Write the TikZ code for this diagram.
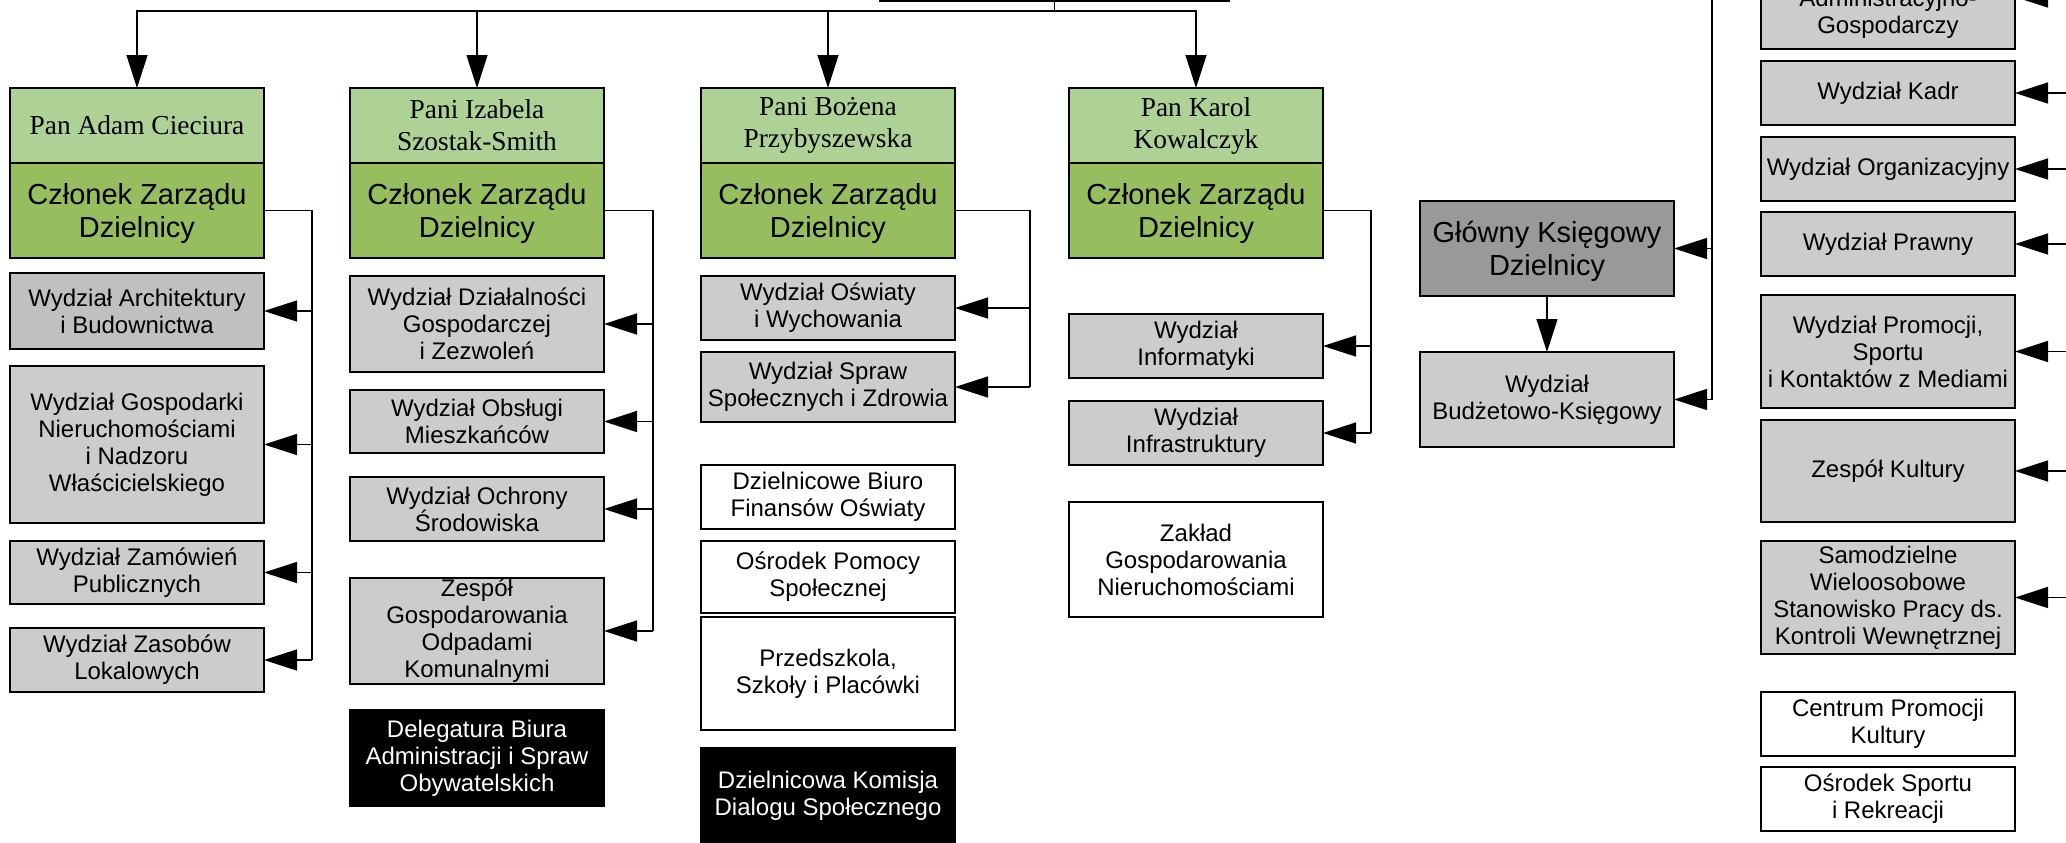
\documentclass[tikz,border=0pt]{standalone}
\usepackage{fontspec}
\setmainfont{Liberation Serif}
\setsansfont{Liberation Sans}
\usepackage{xcolor}
\usepackage{tikz}
\usetikzlibrary{positioning,calc,arrows.meta}
\definecolor{namegreen}{RGB}{174,210,150}
\definecolor{rolegreen}{RGB}{150,190,95}
\definecolor{deptgray}{RGB}{204,204,204}
\definecolor{archgray}{RGB}{192,192,192}
\definecolor{chiefgray}{RGB}{153,153,153}

\begin{document}
\begin{tikzpicture}[>={Triangle[length=16.5pt,width=10.5pt]}, line width=0.7pt,
    every node/.style={rectangle, draw, align=center, minimum width=127pt, inner xsep=2pt, inner ysep=0.4pt, outer sep=0pt, line width=0.8pt, font=\sffamily\fontsize{12}{13.5}\selectfont},
    namebox/.style={fill=namegreen, minimum height=37.5pt, font=\rmfamily\fontsize{13.7}{16}\selectfont},
    rolebox/.style={fill=rolegreen, minimum height=47.5pt, text depth=0pt, font=\sffamily\fontsize{14.5}{16.5}\selectfont},
    dept/.style={fill=deptgray},
    unit/.style={fill=white},
    blackbox/.style={fill=black, text=white}]
    \useasboundingbox (0,0) rectangle (1033pt,-421pt);
    \clip (0,0) rectangle (1033pt,-421pt);

    \node [minimum width=174.5pt, minimum height=30pt] (head) at (527.25pt,14.5pt) {};

    % members of the board
    \node [namebox] (adam) at (68.5pt,-62.75pt) {Pan Adam Cieciura};
    \node [rolebox, below=0pt of adam] (adamzc) {Członek Zarządu\\Dzielnicy};
    \node [namebox, right=43pt of adam] (izabela) {Pani Izabela\\Szostak-Smith};
    \node [rolebox, below=0pt of izabela] (izabelazc) {Członek Zarządu\\Dzielnicy};
    \node [namebox, right=48.5pt of izabela] (bozena) {Pani Bożena\\Przybyszewska};
    \node [rolebox, below=0pt of bozena] (bozenazc) {Członek Zarządu\\Dzielnicy};
    \node [namebox, right=57pt of bozena] (karol) {Pan Karol\\Kowalczyk};
    \node [rolebox, below=0pt of karol] (karolzc) {Członek Zarządu\\Dzielnicy};

    \node [dept, fill=archgray, minimum height=38pt, below=7.5pt of adamzc] (arch) {Wydział Architektury\\i Budownictwa};
    \node [dept, minimum height=78.5pt, below=8.5pt of arch] (gosp) {Wydział Gospodarki\\Nieruchomościami\\i Nadzoru\\Właścicielskiego};
    \node [dept, minimum height=31.5pt, below=9pt of gosp] (zam) {Wydział Zamówień\\Publicznych};
    \node [dept, minimum height=32pt, below=12pt of zam] (zas) {Wydział Zasobów\\Lokalowych};

    \node [dept, minimum height=48pt, below=9pt of izabelazc] (dzial) {Wydział Działalności\\Gospodarczej\\i Zezwoleń};
    \node [dept, minimum height=31.5pt, below=9pt of dzial] (obs) {Wydział Obsługi\\Mieszkańców};
    \node [dept, minimum height=32pt, below=12pt of obs] (ochr) {Wydział Ochrony\\Środowiska};
    \node [dept, minimum height=53pt, below=18.5pt of ochr] (odpady) {Zespół\\Gospodarowania\\Odpadami\\Komunalnymi};
    \node [blackbox, minimum height=48pt, below=13pt of odpady] (deleg) {Delegatura Biura\\Administracji i Spraw\\Obywatelskich};

    \node [dept, minimum height=32pt, below=9pt of bozenazc] (osw) {Wydział Oświaty\\i Wychowania};
    \node [dept, minimum height=35pt, below=6pt of osw] (spraw) {Wydział Spraw\\Społecznych i Zdrowia};
    \node [unit, minimum height=32pt, below=21.5pt of spraw] (biuro) {Dzielnicowe Biuro\\Finansów Oświaty};
    \node [unit, minimum height=36pt, below=6pt of biuro] (ops) {Ośrodek Pomocy\\Społecznej};
    \node [unit, minimum height=56.5pt, below=2pt of ops] (szkoly) {Przedszkola,\\Szkoły i Placówki};
    \node [blackbox, minimum height=48pt, below=9pt of szkoly] (komisja) {Dzielnicowa Komisja\\Dialogu Społecznego};

    \node [dept, minimum height=32pt, below=28pt of karolzc] (inf) {Wydział\\Informatyki};
    \node [dept, minimum height=32pt, below=11.5pt of inf] (infra) {Wydział\\Infrastruktury};
    \node [unit, minimum height=57.5pt, below=18.5pt of infra] (zgn) {Zakład\\Gospodarowania\\Nieruchomościami};

    % accountant
    \node [fill=chiefgray, minimum height=47.5pt, text depth=0pt, font=\sffamily\fontsize{14.5}{16.5}\selectfont] (glowny) at (773.5pt,-124.25pt) {Główny Księgowy\\Dzielnicy};
    \node [dept, minimum height=47.5pt, below=28pt of glowny] (budz) {Wydział\\Budżetowo-Księgowy};

    % right column
    \node [dept, minimum height=35.5pt] (admin) at (944pt,-6.75pt) {Administracyjno-\\Gospodarczy};
    \node [dept, minimum height=32pt, below=6pt of admin] (kadr) {Wydział Kadr};
    \node [dept, minimum height=32pt, below=6pt of kadr] (org) {Wydział Organizacyjny};
    \node [dept, minimum height=32pt, below=5.5pt of org] (prawny) {Wydział Prawny};
    \node [dept, minimum height=56.5pt, below=9.5pt of prawny] (promo) {Wydział Promocji,\\Sportu\\i Kontaktów z Mediami};
    \node [dept, minimum height=51pt, below=6pt of promo] (kultura) {Zespół Kultury};
    \node [dept, minimum height=56.5pt, below=9.5pt of kultura] (kontrola) {Samodzielne\\Wieloosobowe\\Stanowisko Pracy ds.\\Kontroli Wewnętrznej};
    \node [unit, minimum height=32pt, below=19pt of kontrola] (cpk) {Centrum Promocji\\Kultury};
    \node [unit, minimum height=32pt, below=5.5pt of cpk] (osir) {Ośrodek Sportu\\i Rekreacji};

    \coordinate (hub) at ($(head.south)+(0,-5pt)$);
    \draw (head.south) -- (hub);
    \draw [->] (hub) -| (adam.north);
    \draw [->] (hub) -| (izabela.north);
    \draw [->] (hub) -| (bozena.north);
    \draw [->] (hub) -| (karol.north);

    \coordinate [right=24pt of adamzc] (bus1);
    \draw (adamzc.east) -- (bus1) -- (bus1 |- zas.east);
    \draw [->] (bus1 |- arch.east) -- (arch.east);
    \draw [->] (bus1 |- gosp.east) -- (gosp.east);
    \draw [->] (bus1 |- zam.east) -- (zam.east);
    \draw [->] (bus1 |- zas.east) -- (zas.east);

    \coordinate [right=24.5pt of izabelazc] (bus2);
    \draw (izabelazc.east) -- (bus2) -- (bus2 |- odpady.east);
    \draw [->] (bus2 |- dzial.east) -- (dzial.east);
    \draw [->] (bus2 |- obs.east) -- (obs.east);
    \draw [->] (bus2 |- ochr.east) -- (ochr.east);
    \draw [->] (bus2 |- odpady.east) -- (odpady.east);

    \coordinate [right=37.5pt of bozenazc] (bus3);
    \draw (bozenazc.east) -- (bus3) -- (bus3 |- spraw.east);
    \draw [->] (bus3 |- osw.east) -- (osw.east);
    \draw [->] (bus3 |- spraw.east) -- (spraw.east);

    \coordinate [right=24pt of karolzc] (bus4);
    \draw (karolzc.east) -- (bus4) -- (bus4 |- infra.east);
    \draw [->] (bus4 |- inf.east) -- (inf.east);
    \draw [->] (bus4 |- infra.east) -- (infra.east);

    % line from above
    \coordinate (trunk) at (856pt,2pt);
    \draw (trunk) -- (trunk |- budz.east);
    \draw [->] (trunk |- glowny.east) -- (glowny.east);
    \draw [->] (trunk |- budz.east) -- (budz.east);
    \draw [->] (glowny) -- (budz);

    \coordinate (feed) at (1040pt,0pt);
    \draw [->] ([yshift=8.25pt]admin.east -| feed) -- ([yshift=8.25pt]admin.east);
    \draw [->] (feed |- kadr.east) -- (kadr.east);
    \draw [->] (feed |- org.east) -- (org.east);
    \draw [->] (feed |- prawny.east) -- (prawny.east);
    \draw [->] (feed |- promo.east) -- (promo.east);
    \draw [->] (feed |- kultura.east) -- (kultura.east);
    \draw [->] (feed |- kontrola.east) -- (kontrola.east);
\end{tikzpicture}
\end{document}
